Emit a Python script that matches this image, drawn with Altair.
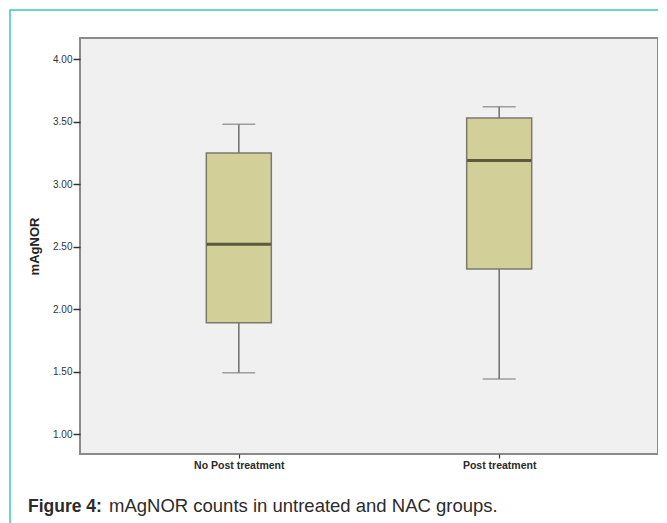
import altair as alt
import pandas as pd

groups = ["No Post treatment", "Post treatment"]
whisker_low = [1.49, 1.44]
q1 = [1.89, 2.32]
median = [2.52, 3.19]
q3 = [3.25, 3.53]
whisker_high = [3.48, 3.62]
y_ticks = [1.0, 1.5, 2.0, 2.5, 3.0, 3.5, 4.0]
y_title = "mAgNOR"
caption_bold = ["Figure 4:"]
caption_text = ["mAgNOR counts in untreated and NAC groups."]

df = pd.DataFrame({
    "group": groups,
    "low": whisker_low,
    "q1": q1,
    "median": median,
    "q3": q3,
    "high": whisker_high,
})
cap_df = pd.DataFrame({"bold": caption_bold, "text": caption_text})

FONT = "Liberation Sans"

x = alt.X(
    "group:N",
    sort=groups,
    scale=alt.Scale(type="point", padding=0.61),
    axis=alt.Axis(
        title=None, labelAngle=0, labelFontSize=10.5, labelFontWeight="bold",
        labelColor="#2a2a2a", tickSize=4, tickColor="#333333", tickWidth=1.2,
        labelPadding=2, domain=False, grid=False,
    ),
)
yscale = alt.Scale(domain=[0.84, 4.17], nice=False, zero=False)
yaxis = alt.Axis(
    values=y_ticks, format=".2f", labelFontSize=10, labelColor="#333333",
    tickColor="#333333", tickSize=7, tickWidth=1.5, labelPadding=1,
    domain=False, grid=False, title=y_title, titleFontSize=13,
    titleFontWeight="bold", titleColor="#222222", titlePadding=11,
)

base = alt.Chart(df)

whisker = base.mark_rule(color="#6e6e6e", strokeWidth=1.5).encode(
    x=x, y=alt.Y("low:Q", scale=yscale, axis=yaxis), y2="high:Q"
)
cap_low = base.mark_tick(size=33, thickness=1.5, color="#7a7a7a").encode(
    x=x, y=alt.Y("low:Q", scale=yscale, axis=yaxis)
)
cap_high = base.mark_tick(size=33, thickness=1.5, color="#7a7a7a").encode(
    x=x, y=alt.Y("high:Q", scale=yscale, axis=yaxis)
)
box = base.mark_bar(size=65, fill="#d3cf98", stroke="#7b7a6a", strokeWidth=1.5).encode(
    x=x, y=alt.Y("q1:Q", scale=yscale, axis=yaxis), y2="q3:Q"
)
med = base.mark_tick(size=64, thickness=3, color="#2a2616").encode(
    x=x, y=alt.Y("median:Q", scale=yscale, axis=yaxis)
)

frame = alt.Chart(cap_df).mark_rect(
    fillOpacity=0, stroke="#3cc9b1", strokeWidth=1.5
).encode(
    x=alt.value(-70), x2=alt.value(720), y=alt.value(-28), y2=alt.value(700)
)

cap1 = alt.Chart(cap_df).mark_text(
    align="left", baseline="alphabetic", fontSize=17.5, fontWeight="bold",
    font=FONT, color="#2b2b2b"
).encode(text="bold:N", x=alt.value(-52), y=alt.value(474))
cap2 = alt.Chart(cap_df).mark_text(
    align="left", baseline="alphabetic", fontSize=18.5, font=FONT, color="#2b2b2b"
).encode(text="text:N", x=alt.value(29), y=alt.value(474))

chart = alt.layer(frame, whisker, cap_low, cap_high, box, med, cap1, cap2).properties(
    width=578, height=416,
    autosize=alt.AutoSizeParams(type="none"),
    padding={"left": 72, "top": 30, "right": 0, "bottom": 69},
    background="white",
).configure(
    font=FONT,
    view=alt.ViewConfig(fill="#f0f0f0", stroke="#8a8a8a", strokeWidth=2),
)

chart.save("out.html", embed_options={"renderer": "svg", "actions": False})
